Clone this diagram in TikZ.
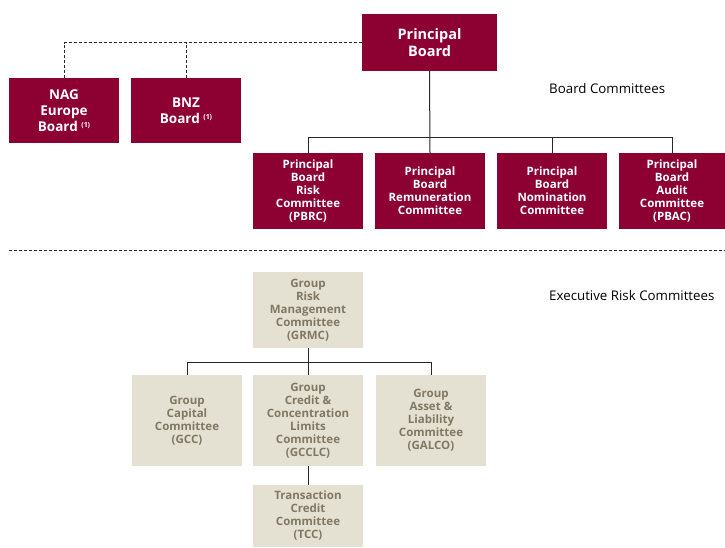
\documentclass[tikz,border=0pt]{standalone}
\usepackage{fontspec}
\setmainfont{Open Sans}
\definecolor{burg}{RGB}{140,0,50}
\definecolor{beige}{RGB}{229,225,210}
\definecolor{btext}{RGB}{128,120,100}
\definecolor{lnc}{RGB}{40,40,40}
\begin{document}
\begin{tikzpicture}[x=1pt,y=-1pt,
  bbox/.style={fill=burg, text=white, font=\bfseries\fontsize{11.5}{13}\selectfont, align=center, inner sep=0pt, minimum width=110pt, minimum height=76pt},
  gbox/.style={fill=beige, text=btext, font=\bfseries\fontsize{11.5}{13}\selectfont, align=center, inner sep=0pt, minimum width=110pt, minimum height=76pt},
  conn/.style={draw=lnc, line width=1pt},
  dconn/.style={draw=lnc, line width=1pt, dash pattern=on 3pt off 2pt},
  lbl/.style={anchor=west, font=\fontsize{13.3}{15}\selectfont, inner sep=0pt}]
\useasboundingbox (0,0) rectangle (725,547);
% top boards
\node[bbox, minimum width=135pt, minimum height=57pt, font=\bfseries\fontsize{14.5}{17}\selectfont] (pb) at (429.5,42.5) {Principal\\Board};
\node[bbox, minimum height=65pt, font=\bfseries\fontsize{13.5}{16}\selectfont] (nag) at (64,110.5) {NAG\\Europe\\Board {\fontsize{7}{7}\selectfont\raisebox{3.5pt}{(1)}}};
\node[bbox, minimum height=65pt, font=\bfseries\fontsize{13.5}{16}\selectfont] (bnz) at (186,110.5) {BNZ\\Board {\fontsize{7}{7}\selectfont\raisebox{3.5pt}{(1)}}};
% committees
\node[bbox] (pbrc) at (308,191) {Principal\\Board\\Risk\\Committee\\(PBRC)};
\node[bbox] (rem) at (430,191) {Principal\\Board\\Remuneration\\Committee};
\node[bbox] (nom) at (552,191) {Principal\\Board\\Nomination\\Committee};
\node[bbox, minimum width=106pt] (aud) at (672,191) {Principal\\Board\\Audit\\Committee\\(PBAC)};
% labels
\node[lbl] (bc) at (549,89) {Board Committees};
\node[lbl] (erc) at (549,296) {Executive Risk Committees};
% separator
\coordinate (s1) at (9,250);
\coordinate (s2) at (725,250);
\draw[dconn] (s1) -- (s2);
% executive
\node[gbox] (grmc) at (308,310) {Group\\Risk\\Management\\Committee\\(GRMC)};
\node[gbox, minimum height=91pt] (gcc) at (187,420.5) {Group\\Capital\\Committee\\(GCC)};
\node[gbox, minimum height=91pt] (gcclc) at (308,420.5) {Group\\Credit \&\\Concentration\\Limits\\Committee\\(GCCLC)};
\node[gbox, minimum height=91pt] (galco) at (431,420.5) {Group\\Asset \&\\Liability\\Committee\\(GALCO)};
\node[gbox, minimum height=62pt] (tcc) at (308,516) {Transaction\\Credit\\Committee\\(TCC)};
% connectors top
\draw[dconn] (nag.north) -- (nag.north |- pb.west) -- (pb.west);
\draw[dconn] (bnz.north) -- (bnz.north |- pb.west);
\draw[conn] (pb.south) -- (rem.north);
\draw[conn] (pbrc.north) -- ++(0,-15) -| (aud.north);
\draw[conn] (nom.north) -- ++(0,-15);
% connectors bottom
\draw[conn] (grmc.south) -- (gcclc.north);
\draw[conn] (gcc.north) -- ++(0,-12) -| (galco.north);
\draw[conn] (gcclc.south) -- (tcc.north);
\end{tikzpicture}
\end{document}
